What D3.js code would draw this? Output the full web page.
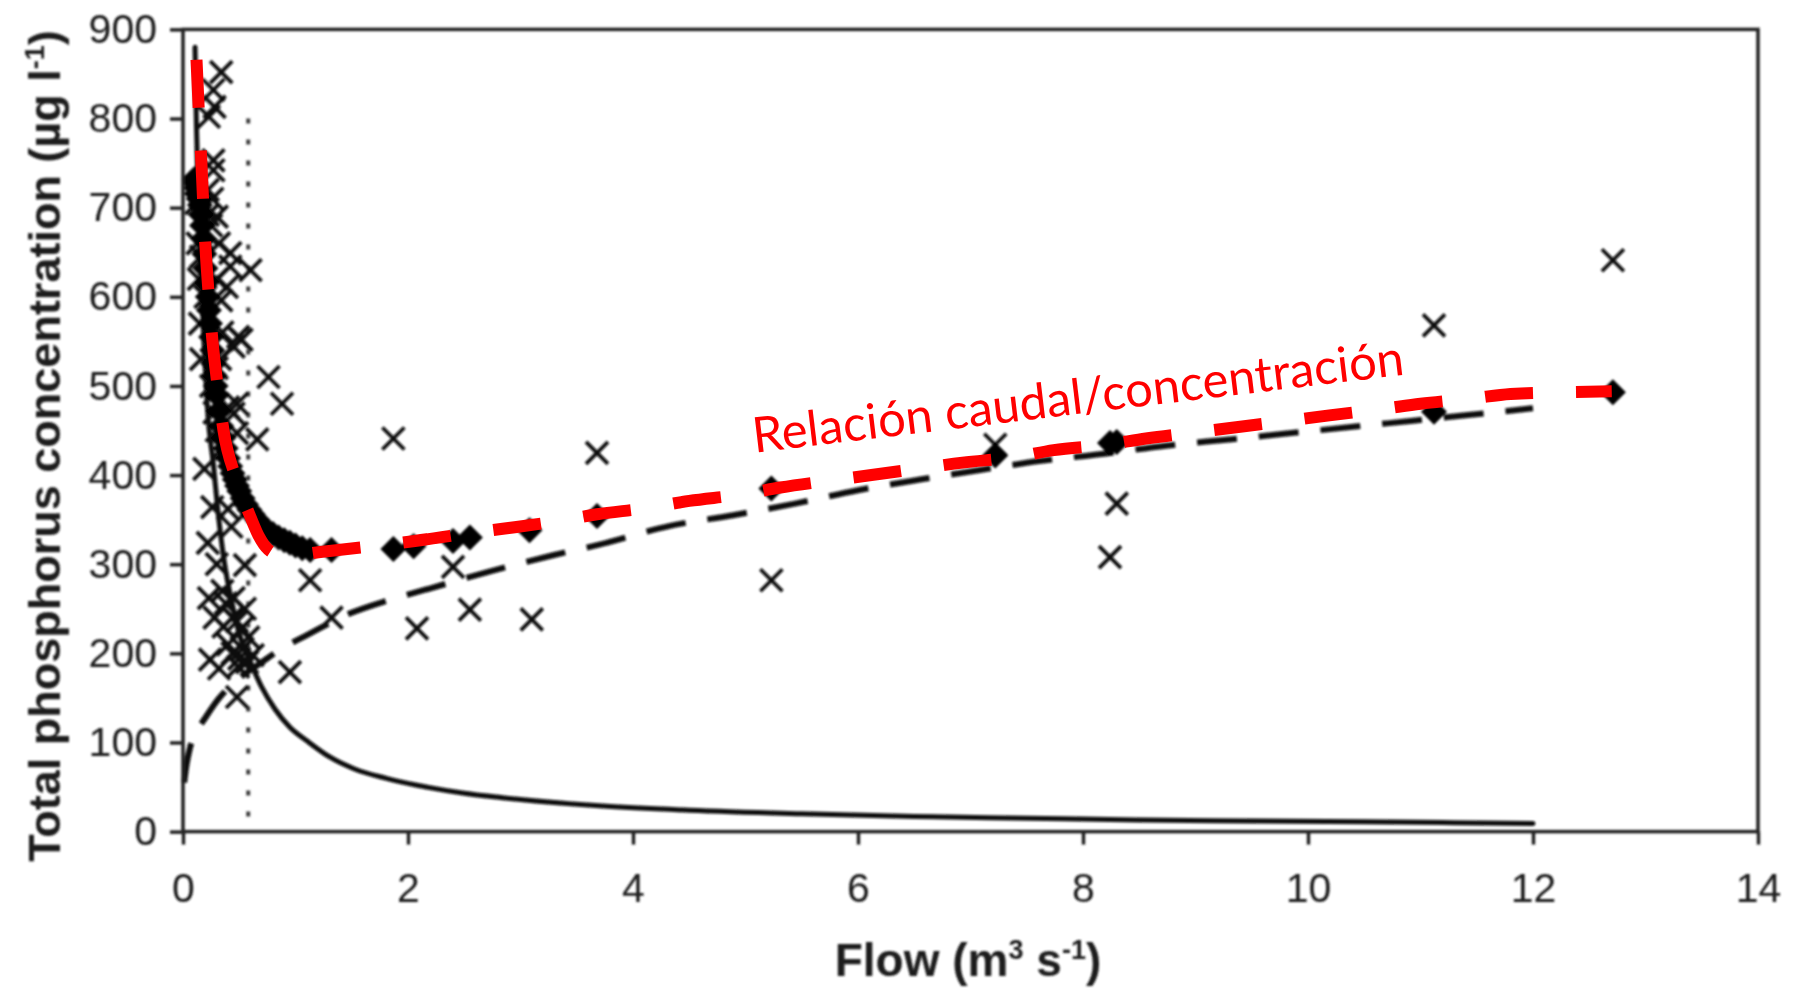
<!DOCTYPE html>
<html>
<head>
<meta charset="utf-8">
<script src="https://cdn.jsdelivr.net/npm/d3@7"></script>
<style>
  html, body { margin: 0; padding: 0; background: #ffffff; }
  svg { display: block; }
</style>
</head>
<body>
<svg id="chart" width="1810" height="989"></svg>
<script>
// ---- axis ticks ----
const flowTicks = [0, 2, 4, 6, 8, 10, 12, 14];
const tpTicks = [0, 100, 200, 300, 400, 500, 600, 700, 800, 900];

// ---- observed samples [flow m3/s, total P ug/l] ----
const observed = [
  [0.34, 852], [0.27, 832], [0.28, 813], [0.23, 802], [0.27, 753], [0.27, 742],
  [0.12, 705], [0.18, 700], [0.22, 692], [0.25, 680], [0.20, 672], [0.13, 660], [0.16, 645],
  [0.22, 720], [0.26, 710], [0.30, 690], [0.32, 660],
  [0.42, 649], [0.42, 634], [0.60, 630], [0.39, 611], [0.34, 596], [0.14, 620], [0.20, 600], [0.15, 570],
  [0.30, 620], [0.35, 560], [0.33, 530],
  [0.49, 555], [0.45, 544], [0.52, 552], [0.16, 530], [0.30, 520], [0.25, 500], [0.28, 470],
  [0.30, 450], [0.35, 430],
  [0.76, 510], [0.88, 480], [0.48, 480], [0.45, 469], [0.66, 440], [0.48, 447], [0.40, 476],
  [0.19, 407], [0.26, 364], [0.40, 362], [0.43, 342], [0.22, 324], [0.55, 299], [1.13, 282],
  [0.30, 300], [0.35, 270], [0.28, 240], [0.36, 230],
  [0.23, 262], [0.38, 256], [0.45, 262], [0.44, 240], [0.48, 236], [0.52, 228], [1.32, 240],
  [0.40, 210], [0.55, 250], [0.53, 205], [0.44, 200], [0.57, 190],
  [0.58, 218], [0.62, 198], [0.50, 194], [0.49, 185], [0.24, 193], [0.32, 183], [0.95, 179], [0.48, 151],
  [1.87, 441], [2.08, 228], [2.40, 297], [2.55, 249], [3.10, 238], [3.68, 425],
  [5.23, 282], [7.22, 434], [8.24, 308], [8.30, 368], [11.12, 568], [12.71, 641]
];

// ---- modelled total concentration at the sampled flows ----
const modelled = [
  [0.10, 732], [0.11, 728], [0.12, 722], [0.13, 715], [0.14, 710], [0.15, 703], [0.16, 692],
  [0.17, 680], [0.18, 665], [0.19, 648], [0.20, 632], [0.21, 616], [0.22, 600], [0.23, 585],
  [0.24, 570], [0.25, 555], [0.26, 540], [0.27, 525], [0.28, 512], [0.29, 500], [0.30, 490],
  [0.32, 472], [0.34, 455], [0.36, 442], [0.38, 430], [0.40, 419], [0.42, 410], [0.44, 402],
  [0.46, 395], [0.48, 388], [0.50, 382], [0.53, 374], [0.56, 367], [0.59, 361], [0.62, 356],
  [0.66, 350], [0.70, 344], [0.75, 338], [0.80, 334], [0.85, 330], [0.90, 327], [0.95, 324],
  [1.00, 321], [1.06, 318], [1.13, 316], [1.32, 316], [1.87, 317], [2.05, 320], [2.40, 326],
  [2.55, 330], [3.08, 338], [3.68, 354], [5.23, 385], [7.22, 422], [8.24, 436], [8.30, 437],
  [11.12, 471], [12.71, 493]
];

// ---- point-source component (solid curve) ----
const pointSource = [
  [0.107, 880], [0.12, 790], [0.14, 690], [0.16, 620], [0.19, 540], [0.22, 470], [0.27, 412],
  [0.31, 360], [0.37, 300], [0.44, 254], [0.50, 222], [0.60, 190], [0.70, 162], [0.82, 137],
  [0.95, 117], [1.11, 101], [1.30, 84], [1.53, 70], [1.80, 60], [2.08, 52], [2.50, 43],
  [3.00, 36], [3.70, 29], [4.50, 24], [5.50, 20], [6.50, 17], [7.50, 15], [8.50, 13],
  [9.50, 12], [10.50, 11], [11.30, 10], [12.00, 9]
];

// ---- diffuse component (dashed curve) ----
const diffuse = [
  [0.01, 55], [0.03, 74], [0.06, 93], [0.12, 112], [0.20, 128], [0.31, 148], [0.50, 172],
  [0.70, 190], [0.86, 204], [1.11, 221], [1.47, 244], [1.84, 260], [2.20, 273], [2.73, 292],
  [3.29, 310], [3.70, 322], [4.33, 343], [4.89, 355], [5.44, 368], [6.00, 383], [6.55, 395],
  [7.10, 406], [7.63, 416], [8.19, 424], [8.74, 433], [9.30, 440], [10.00, 449], [10.70, 458],
  [11.40, 467], [12.00, 475]
];

// ---- flow / concentration relation (red dashed) ----
const relation = [
  [0.12, 866], [0.14, 810], [0.16, 760], [0.18, 705], [0.20, 655], [0.23, 600], [0.26, 553],
  [0.31, 498], [0.36, 450], [0.47, 397], [0.60, 353], [0.68, 330], [0.80, 313], [0.95, 310],
  [1.24, 314], [1.67, 320], [2.06, 326], [2.50, 334], [2.86, 340], [3.31, 348], [3.68, 356],
  [4.12, 363], [4.50, 371], [4.95, 378], [5.31, 386], [5.76, 394], [6.12, 400], [6.58, 408],
  [6.93, 414], [7.39, 420], [7.74, 428], [8.20, 434], [8.56, 441], [9.00, 448], [9.38, 454],
  [9.83, 461], [10.19, 467], [10.65, 474], [11.00, 480], [11.46, 486], [11.80, 491],
  [12.28, 493], [12.70, 494]
];

// flow at which both components are equal (dotted marker)
const thresholdFlow = 0.58;
const thresholdTop = 800;

const relationLabel = "Relación caudal/concentración";
const labelAnchor = [5.08, 425];   // flow, TP of text start
const labelAngle = -6.85;

// ---- layout ----
const svg = d3.select("#chart");
const x = d3.scaleLinear().domain([0, 14]).range([183, 1758]);
const y = d3.scaleLinear().domain([0, 900]).range([831.6, 29.4]);

const defs = svg.append("defs");
defs.append("filter").attr("id", "soft")
  .attr("x", "-5%").attr("y", "-5%").attr("width", "110%").attr("height", "110%")
  .append("feGaussianBlur").attr("stdDeviation", 0.9);

const ink = svg.append("g").attr("filter", "url(#soft)");
const line = d3.line().x(d => x(d[0])).y(d => y(d[1])).curve(d3.curveMonotoneX);

// dotted threshold marker
ink.append("line")
  .attr("x1", x(thresholdFlow)).attr("x2", x(thresholdFlow))
  .attr("y1", y(thresholdTop)).attr("y2", y(0))
  .attr("stroke", "#3a3a3a").attr("stroke-width", 4)
  .attr("stroke-dasharray", "5 16");

// point-source component
ink.append("path").datum(pointSource)
  .attr("d", line).attr("fill", "none")
  .attr("stroke", "#0d0d0d").attr("stroke-width", 5)
  .attr("stroke-linecap", "round");

// diffuse component
ink.append("path").datum(diffuse)
  .attr("d", line).attr("fill", "none")
  .attr("stroke", "#0d0d0d").attr("stroke-width", 6)
  .attr("stroke-dasharray", "40 22");

// observed samples as crosses
const s = 11;
ink.append("g").selectAll("path").data(observed).join("path")
  .attr("transform", d => `translate(${x(d[0])},${y(d[1])})`)
  .attr("d", `M${-s},${-s}L${s},${s}M${-s},${s}L${s},${-s}`)
  .attr("stroke", "#111").attr("stroke-width", 3.8).attr("fill", "none");

// modelled values as filled diamonds
const r = 13;
ink.append("g").selectAll("path").data(modelled).join("path")
  .attr("transform", d => `translate(${x(d[0])},${y(d[1])})`)
  .attr("d", `M0,${-r}L${r},0L0,${r}L${-r},0Z`)
  .attr("fill", "#000");

// frame
ink.append("rect")
  .attr("x", x(0)).attr("y", y(900))
  .attr("width", x(14) - x(0)).attr("height", y(0) - y(900))
  .attr("fill", "none").attr("stroke", "#222").attr("stroke-width", 3.5);

// axes
const axisFont = "'Liberation Sans', Arial, Helvetica, sans-serif";
const xAxis = ink.append("g").attr("transform", `translate(0,${y(0)})`)
  .call(d3.axisBottom(x).tickValues(flowTicks).tickFormat(d3.format("d"))
    .tickSize(13).tickPadding(28).tickSizeOuter(0));
const yAxis = ink.append("g").attr("transform", `translate(${x(0)},0)`)
  .call(d3.axisLeft(y).tickValues(tpTicks).tickFormat(d3.format("d"))
    .tickSize(13).tickPadding(13).tickSizeOuter(0));
[xAxis, yAxis].forEach(g => {
  g.select(".domain").remove();
  g.selectAll(".tick line").attr("stroke", "#222").attr("stroke-width", 3.5);
  g.selectAll(".tick text").attr("fill", "#1a1a1a")
    .style("font-family", axisFont).style("font-size", "41px");
});

// axis titles
const xTitle = ink.append("text")
  .attr("x", 968).attr("y", 976).attr("text-anchor", "middle")
  .attr("fill", "#1a1a1a").style("font-family", axisFont)
  .style("font-size", "46px").style("font-weight", "bold");
xTitle.append("tspan").text("Flow (m");
xTitle.append("tspan").attr("dy", -17).style("font-size", "27px").text("3");
xTitle.append("tspan").attr("dy", 17).text(" s");
xTitle.append("tspan").attr("dy", -17).style("font-size", "27px").text("-1");
xTitle.append("tspan").attr("dy", 17).text(")");

const yTitle = ink.append("text")
  .attr("transform", "translate(60,446) rotate(-90)")
  .attr("text-anchor", "middle")
  .attr("fill", "#1a1a1a").style("font-family", axisFont)
  .style("font-size", "45px").style("font-weight", "bold");
yTitle.append("tspan").text("Total phosphorus concentration (\u00b5g l");
yTitle.append("tspan").attr("dy", -16).style("font-size", "27px").text("-1");
yTitle.append("tspan").attr("dy", 16).text(")");

// red relation overlay
svg.append("path").datum(relation)
  .attr("d", line).attr("fill", "none")
  .attr("stroke", "#ff0000").attr("stroke-width", 12)
  .attr("stroke-dasharray", "48 43");

const lx = x(labelAnchor[0]), ly = y(labelAnchor[1]);
svg.append("text")
  .attr("x", lx).attr("y", ly)
  .attr("transform", `rotate(${labelAngle},${lx},${ly})`)
  .attr("fill", "#ff0000")
  .style("font-family", "Lato, 'Open Sans', sans-serif")
  .style("font-size", "49px")
  .text(relationLabel);
</script>
</body>
</html>
